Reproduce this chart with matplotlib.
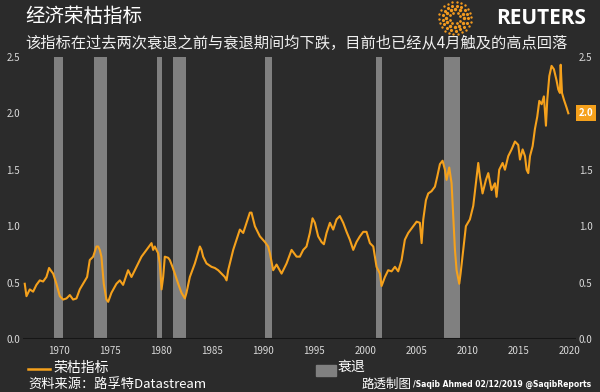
import numpy as np
import matplotlib
matplotlib.use("Agg")
import matplotlib.pyplot as plt
from matplotlib.lines import Line2D
from matplotlib.patches import Rectangle

plt.rcParams['font.family'] = ['Noto Sans CJK SC', 'DejaVu Sans']

# 荣枯指标
years = [1966.67, 1966.84, 1967.16, 1967.49, 1967.81, 1968.14, 1968.47, 1968.79, 1969.05, 1969.28,
         1969.45, 1969.77, 1970.10, 1970.42, 1970.75, 1971.08, 1971.40, 1971.73, 1972.05, 1972.38,
         1972.77, 1973.03, 1973.36, 1973.69, 1973.85, 1974.01, 1974.17, 1974.40, 1974.66, 1974.83,
         1975.15, 1975.64, 1975.97, 1976.29, 1976.78, 1977.11, 1977.60, 1978.09, 1978.58, 1979.07,
         1979.23, 1979.39, 1979.72, 1979.88, 1980.05, 1980.21, 1980.37, 1980.70, 1980.86, 1981.12,
         1981.35, 1981.68, 1982.00, 1982.33, 1982.49, 1982.82, 1983.31, 1983.80, 1983.96, 1984.12,
         1984.45, 1984.94, 1985.26, 1985.59, 1985.92, 1986.24, 1986.41, 1986.57, 1986.73, 1987.06,
         1987.38, 1987.71, 1988.04, 1988.36, 1988.69, 1988.85, 1989.18, 1989.67, 1990.16, 1990.48,
         1990.65, 1990.97, 1991.30, 1991.79, 1992.28, 1992.77, 1993.26, 1993.58, 1993.91, 1994.23,
         1994.56, 1994.82, 1995.05, 1995.37, 1995.70, 1995.93, 1996.19, 1996.52, 1996.84, 1997.17,
         1997.49, 1997.82, 1998.15, 1998.47, 1998.80, 1999.12, 1999.45, 1999.78, 2000.10, 2000.43,
         2000.76, 2001.08, 2001.41, 2001.57, 2001.90, 2002.22, 2002.55, 2002.88, 2003.20, 2003.53,
         2003.85, 2004.18, 2004.67, 2005.00, 2005.32, 2005.49, 2005.65, 2005.91, 2006.14, 2006.46,
         2006.79, 2007.02, 2007.28, 2007.54, 2007.77, 2007.93, 2008.19, 2008.42, 2008.58, 2008.75,
         2008.91, 2009.17, 2009.30, 2009.56, 2009.82, 2010.21, 2010.54, 2010.80, 2011.03, 2011.19,
         2011.45, 2011.78, 2012.01, 2012.33, 2012.66, 2012.82, 2013.08, 2013.41, 2013.64, 2013.96,
         2014.29, 2014.62, 2014.94, 2015.11, 2015.37, 2015.60, 2015.76, 2015.92, 2016.09, 2016.35,
         2016.57, 2016.80, 2017.00, 2017.23, 2017.45, 2017.65, 2017.78, 2017.98, 2018.20, 2018.43,
         2018.69, 2018.86, 2019.02, 2019.09, 2019.22, 2019.41, 2019.67, 2019.84]
ratio = [0.49, 0.38, 0.44, 0.42, 0.48, 0.52, 0.51, 0.55, 0.63, 0.60,
         0.58, 0.49, 0.38, 0.35, 0.36, 0.39, 0.35, 0.36, 0.44, 0.49,
         0.55, 0.70, 0.73, 0.82, 0.82, 0.79, 0.73, 0.49, 0.35, 0.33,
         0.41, 0.49, 0.52, 0.48, 0.61, 0.55, 0.64, 0.73, 0.79, 0.85,
         0.79, 0.82, 0.76, 0.67, 0.44, 0.55, 0.73, 0.72, 0.70, 0.64,
         0.58, 0.49, 0.41, 0.36, 0.41, 0.55, 0.67, 0.82, 0.79, 0.73,
         0.67, 0.64, 0.63, 0.61, 0.58, 0.55, 0.52, 0.61, 0.67, 0.79,
         0.88, 0.97, 0.94, 1.03, 1.12, 1.12, 1.00, 0.91, 0.86, 0.82,
         0.76, 0.61, 0.66, 0.58, 0.67, 0.79, 0.73, 0.73, 0.79, 0.82,
         0.94, 1.07, 1.03, 0.91, 0.86, 0.84, 0.94, 1.03, 0.97, 1.06,
         1.09, 1.03, 0.95, 0.88, 0.79, 0.86, 0.91, 0.95, 0.95, 0.85,
         0.82, 0.64, 0.58, 0.47, 0.55, 0.61, 0.60, 0.64, 0.60, 0.70,
         0.88, 0.94, 1.00, 1.04, 1.03, 0.85, 1.06, 1.23, 1.29, 1.31,
         1.35, 1.44, 1.55, 1.58, 1.50, 1.41, 1.52, 1.38, 1.09, 0.79,
         0.61, 0.49, 0.58, 0.79, 1.00, 1.06, 1.18, 1.38, 1.56, 1.44,
         1.29, 1.41, 1.47, 1.32, 1.38, 1.26, 1.50, 1.56, 1.50, 1.62,
         1.68, 1.75, 1.72, 1.59, 1.68, 1.62, 1.50, 1.47, 1.62, 1.71,
         1.86, 1.97, 2.11, 2.08, 2.15, 1.89, 2.12, 2.33, 2.42, 2.39,
         2.29, 2.21, 2.18, 2.43, 2.18, 2.12, 2.05, 2.00]

# 衰退区间
rec_start = [1969.50, 1973.42, 1979.62, 1981.19, 1990.16, 2001.02, 2007.70]
rec_end = [1970.40, 1974.73, 1980.14, 1982.49, 1990.87, 2001.60, 2009.24]

xticks = [1970, 1975, 1980, 1985, 1990, 1995, 2000, 2005, 2010, 2015, 2020]
yticks = [0.0, 0.5, 1.0, 1.5, 2.0, 2.5]
yticks_right = [0.0, 0.5, 1.0, 1.5, 2.5]

BG = '#2b2b2b'
ORANGE = '#f5a11c'
BAR = '#808080'
TXT = '#d9d9d9'

fig = plt.figure(figsize=(6, 3.92), dpi=100, facecolor=BG)
ax = fig.add_axes([0.038, 0.135, 0.922, 0.72], facecolor=BG)

for s, e in zip(rec_start, rec_end):
    ax.axvspan(s, e, color=BAR, lw=0, zorder=1)
ax.plot(years, ratio, color=ORANGE, lw=1.5, zorder=3)

ax.set_xlim(1966.48, 2020.59)
ax.set_ylim(0, 2.5)
for sp in ax.spines.values():
    sp.set_visible(False)
ax.axhline(0, color='#161616', lw=1.5, zorder=4)

ax.set_xticks(xticks)
ax.set_xticklabels([str(t) for t in xticks])
ax.set_yticks(yticks)
ax.set_yticklabels(['%.1f' % t for t in yticks])
ax.tick_params(axis='x', length=0, colors=TXT, labelsize=7, pad=5)
ax.tick_params(axis='y', length=0, colors=TXT, labelsize=7, pad=2)

# 右侧刻度 (2.0 由最新值标签代替)
ax2 = ax.twinx()
ax2.set_ylim(0, 2.5)
ax2.set_yticks(yticks_right)
ax2.set_yticklabels(['%.1f' % t for t in yticks_right])
ax2.tick_params(axis='y', length=0, colors=TXT, labelsize=7, pad=2)
for sp in ax2.spines.values():
    sp.set_visible(False)

# 最新值标签
ax2.annotate('%.1f' % ratio[-1], xy=(1.0, ratio[-1]), xycoords=('axes fraction', 'data'),
             xytext=(2, 0), textcoords='offset points', ha='left', va='center',
             fontsize=7, color='white', fontweight='bold',
             bbox=dict(boxstyle='square,pad=0.3', fc=ORANGE, ec='none'), zorder=6)

# 标题
fig.text(0.042, 0.957, '经济荣枯指标', fontsize=14, color='white', va='center', ha='left')
fig.text(0.042, 0.888, '该指标在过去两次衰退之前与衰退期间均下跌，目前也已经从4月触及的高点回落',
         fontsize=11, color='#f0f0f0', va='center', ha='left')

# 路透标志
lax = fig.add_axes([455 / 600 - 0.03, 1 - 18 / 392 - 0.046, 0.06, 0.092])
lax.set_xlim(-1, 1)
lax.set_ylim(-1, 1)
lax.set_aspect('equal')
lax.axis('off')
for r, n, sz in [(0.3, 8, 4), (0.5, 12, 6), (0.7, 17, 5), (0.9, 22, 3)]:
    th = np.linspace(0, 2 * np.pi, n, endpoint=False) + r
    lax.scatter(r * np.cos(th), r * np.sin(th), s=sz, color='#f29a1f', lw=0)
fig.text(0.977, 0.953, 'REUTERS', fontsize=15, fontweight='bold', color='white',
         family=['Open Sans', 'DejaVu Sans'], ha='right', va='center')

# 图例
fig.add_artist(Line2D([0.047, 0.083], [0.058, 0.058], color=ORANGE, lw=1.8,
                      transform=fig.transFigure))
fig.text(0.089, 0.06, '荣枯指标', fontsize=10, color='white', va='center', ha='left')
fig.add_artist(Rectangle((0.527, 0.040), 0.033, 0.028, color=BAR, transform=fig.transFigure))
fig.text(0.562, 0.064, '衰退', fontsize=10, color='white', va='center', ha='left')

# 来源
fig.text(0.047, 0.02, '资料来源：路孚特Datastream', fontsize=9.5, color='white', va='center', ha='left')
fig.text(0.686, 0.02, '路透制图', fontsize=9, color='white', va='center', ha='right')
fig.text(0.688, 0.02, '/Saqib Ahmed 02/12/2019 @SaqibReports', fontsize=5.5, color='white',
         fontweight='bold', va='center', ha='left', family=['DejaVu Sans'])

fig.savefig('out.png', dpi=100, facecolor=BG)
